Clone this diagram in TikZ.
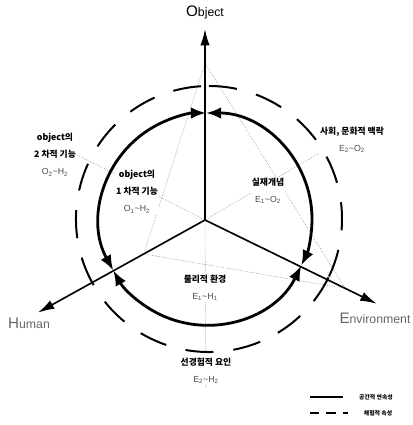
\documentclass[tikz,border=0pt]{standalone}
\usepackage{fontspec}
\setmainfont{Liberation Sans}
\newfontfamily\kr{Noto Sans CJK KR}
\usetikzlibrary{arrows.meta}

\newcommand{\pair}[4]{{\rmfamily\mdseries\fontsize{7.5}{14.5}\selectfont\color{black!70}#1\textsubscript{#2}\textasciitilde#3\textsubscript{#4}}}

\begin{document}
\begin{tikzpicture}[
        x=0.3mm, y=0.3mm,
        every node/.style={font=\kr\bfseries\fontsize{7.5}{14.5}\selectfont, inner sep=1pt},
        axis/.style={draw, line width=1.4pt, -{Latex[length=14pt,width=8pt]}},
        ring/.style={draw, line width=2.4pt},
        flow/.style={ring, {Latex[length=13pt,width=10pt]}-{Latex[length=13pt,width=10pt]}},
        series/.style={draw, line width=1.7pt, dash pattern=on 24pt off 17pt},
        guide/.style={draw, black!45, densely dotted, line width=0.5pt},
        tag/.style={fill=white, align=center},
        pole/.style={font=\rmfamily\fontsize{10.5}{12}\selectfont},
        key/.style={font=\kr\bfseries\fontsize{5}{6}\selectfont}
    ]
    \useasboundingbox (-205,-205) rectangle (207,220);

    % axes
    \coordinate (c) at (0,0);
    \coordinate (o) at (90:191);
    \coordinate (h) at (209:191);
    \coordinate (e) at (-26:191);

    % dotted triangle and leaders
    \coordinate (po) at (90:157);
    \coordinate (ph) at (209:70);
    \coordinate (pe) at (-26:156);
    \draw[guide] (po) -- (ph) -- (pe) -- cycle;

    \node[tag] (second) at (-150,65) {object의\\2 차적 기능\\\pair{O}{2}{H}{2}};
    \draw[guide] (c) -- (second.east);
    \draw[guide] (c) -- (128,75);
    \draw[guide] (c) -- (1,-168);

    % dashed circle
    \draw[series] ([shift={(4,1)}]90:133) arc[start angle=90, end angle=-26, radius=133];
    \draw[series] ([shift={(4,1)}]-26:133) arc[start angle=-26, end angle=-151, radius=133];
    \draw[series] ([shift={(4,1)}]-151:133) arc[start angle=-151, end angle=-270, radius=133];

    % solid circle
    \draw[flow] ([shift={(1,1)}]90:106) arc[start angle=90, end angle=-26, radius=106];
    \draw[flow] ([shift={(1,1)}]-26:106) arc[start angle=-26, end angle=-151, radius=106];
    \draw[flow] ([shift={(1,1)}]-151:106) arc[start angle=-151, end angle=-270, radius=106];

    \draw[axis] (c) -- (o);
    \draw[axis] (c) -- (h);
    \draw[axis] (c) -- (e);

    \node[pole] (object) at (0,208) {{\fontsize{13}{14}\selectfont O}bject};
    \node[pole, text=black!60] (human) at (-176,-103) {{\fontsize{13}{14}\selectfont H}uman};
    \node[pole, text=black!60] (environment) at (170,-98) {{\fontsize{13}{14}\selectfont E}nvironment};

    % labels
    \node[tag] (first) at (-68,28) {object의\\1 차적 기능\\\pair{O}{1}{H}{2}};
    \node[tag] (social) at (147,80) {사회, 문화적 맥락\\\pair{E}{2}{O}{2}};
    \node[tag] (real) at (63,29) {실재개념\\\pair{E}{1}{O}{2}};
    \node[tag] (physical) at (0,-68) {물리적 환경\\\pair{E}{1}{H}{1}};
    \node[tag] (prior) at (1,-151) {선경험적 요인\\\pair{E}{2}{H}{2}};

    % legend
    \coordinate (k1a) at (105,-177);
    \coordinate (k1b) at (138,-177);
    \coordinate (k2a) at (105,-193);
    \coordinate (k2b) at (143,-193);
    \draw[line width=1.6pt] (k1a) -- (k1b);
    \draw[line width=1.6pt, dash pattern=on 8pt off 6pt] (k2a) -- (k2b);
    \node[key] (space) at (171,-177) {공간적 연속성};
    \node[key] (exper) at (173,-193) {체험적 속성};
\end{tikzpicture}
\end{document}
